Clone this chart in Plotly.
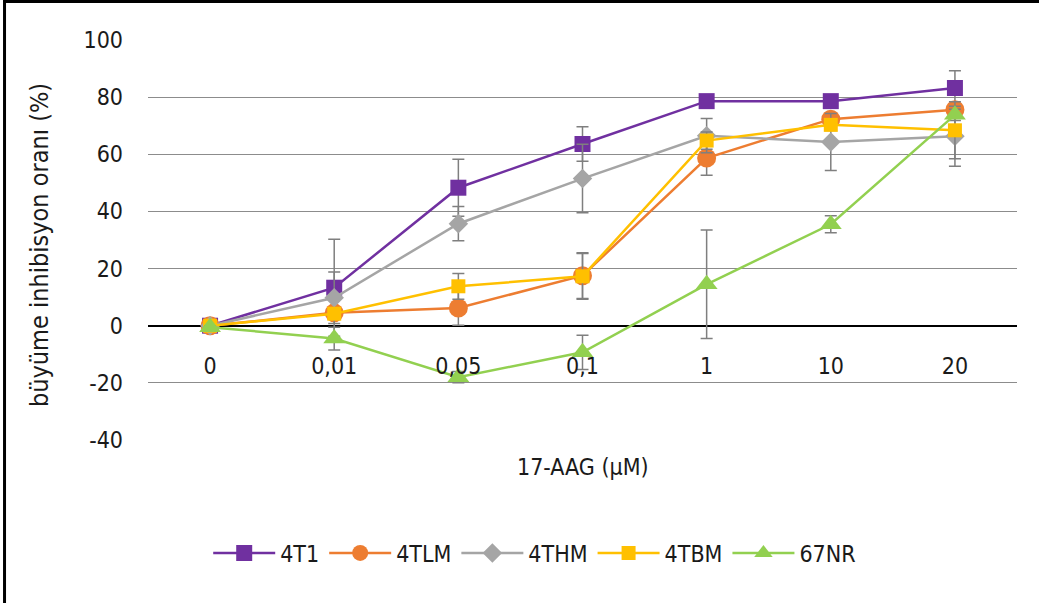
import plotly.graph_objects as go

categories = ["0", "0,01", "0,05", "0,1", "1", "10", "20"]

s_4T1 = [0, 13.3, 48.3, 63.6, 78.6, 78.6, 83.2]
e_4T1 = [0, 17, 10, 6, 1, 1, 6]

s_4TLM = [0, 4.5, 6.2, 17.5, 58.7, 72.3, 75.6]
e_4TLM = [0, 1, 6, 8, 6, 2, 2]

s_4THM = [0, 9.8, 35.7, 51.5, 66.5, 64.3, 66.3]
e_4THM = [0, 9, 6, 12, 6, 10, 10.5]

s_4TBM = [0, 4.2, 13.8, 17.3, 64.8, 70.3, 68.4]
e_4TBM = [0, 1, 4.5, 8, 3, 2, 10]

s_67NR = [-0.5, -4.5, -18, -9.3, 14.5, 35.5, 73.8]
e_67NR = [0.5, 4, 2, 6, 19, 3, 2]

y_ticks = [-40, -20, 0, 20, 40, 60, 80, 100]
y_labels = ["-40", "-20", "0", "20", "40", "60", "80", "100"]

series = [
    ("4T1", s_4T1, e_4T1, "#7030A0", "square", 16),
    ("4TLM", s_4TLM, e_4TLM, "#ED7D31", "circle", 19),
    ("4THM", s_4THM, e_4THM, "#A5A5A5", "diamond", 15),
    ("4TBM", s_4TBM, e_4TBM, "#FFC000", "square", 14),
    ("67NR", s_67NR, e_67NR, "#92D050", "triangle-up", 19),
]

FONT = "DejaVu Sans Condensed, Liberation Sans Narrow, sans-serif"

fig = go.Figure()
for name, vals, errs, color, sym, size in series:
    fig.add_trace(go.Scatter(
        x=categories, y=vals, name=name, mode="lines+markers",
        line=dict(color=color, width=2.5),
        marker=dict(symbol=sym, size=size, color=color),
        error_y=dict(type="data", array=errs, visible=True,
                     color="#7f7f7f", thickness=1.5, width=6),
    ))

fig.update_layout(
    width=1039, height=603,
    margin=dict(l=148, r=22, t=40, b=163),
    paper_bgcolor="white", plot_bgcolor="white",
    font=dict(family=FONT, size=23, color="#1a1a1a"),
    showlegend=True,
    legend=dict(orientation="h", x=0.445, xanchor="center", y=-0.2825,
                yanchor="middle", font=dict(size=23), itemwidth=62,
                tracegroupgap=0),
    xaxis=dict(type="category", range=[-0.5, 6.5], anchor="free",
               position=40 / 140, showgrid=False, showline=False,
               ticks="", ticklabelstandoff=24, tickfont=dict(size=23)),
    yaxis=dict(range=[-40, 100], tickvals=y_ticks, ticktext=y_labels,
               showgrid=True, gridcolor="#8c8c8c", gridwidth=1.3,
               zeroline=True, zerolinecolor="#000000", zerolinewidth=1.5,
               showline=False, ticks="", ticklabelstandoff=24,
               tickfont=dict(size=23)),
    annotations=[
        dict(text="17-AAG (µM)", xref="paper", yref="paper", x=0.5,
             y=-0.0675, xanchor="center", yanchor="middle",
             showarrow=False, font=dict(size=23)),
        dict(text="büyüme inhibisyon oranı (%)", xref="paper", yref="paper",
             x=-0.1243, y=0.4875, xanchor="center", yanchor="middle",
             textangle=-90, showarrow=False, font=dict(size=25)),
    ],
    shapes=[
        dict(type="path", xref="paper", yref="paper",
             path="M -0.1651,-0.42 L -0.1651,1.0963 L 1.03,1.0963",
             line=dict(color="#000000", width=3)),
    ],
)

fig.write_html("out.html", config={"displayModeBar": False},
               post_script="document.body.style.margin='0px';")
